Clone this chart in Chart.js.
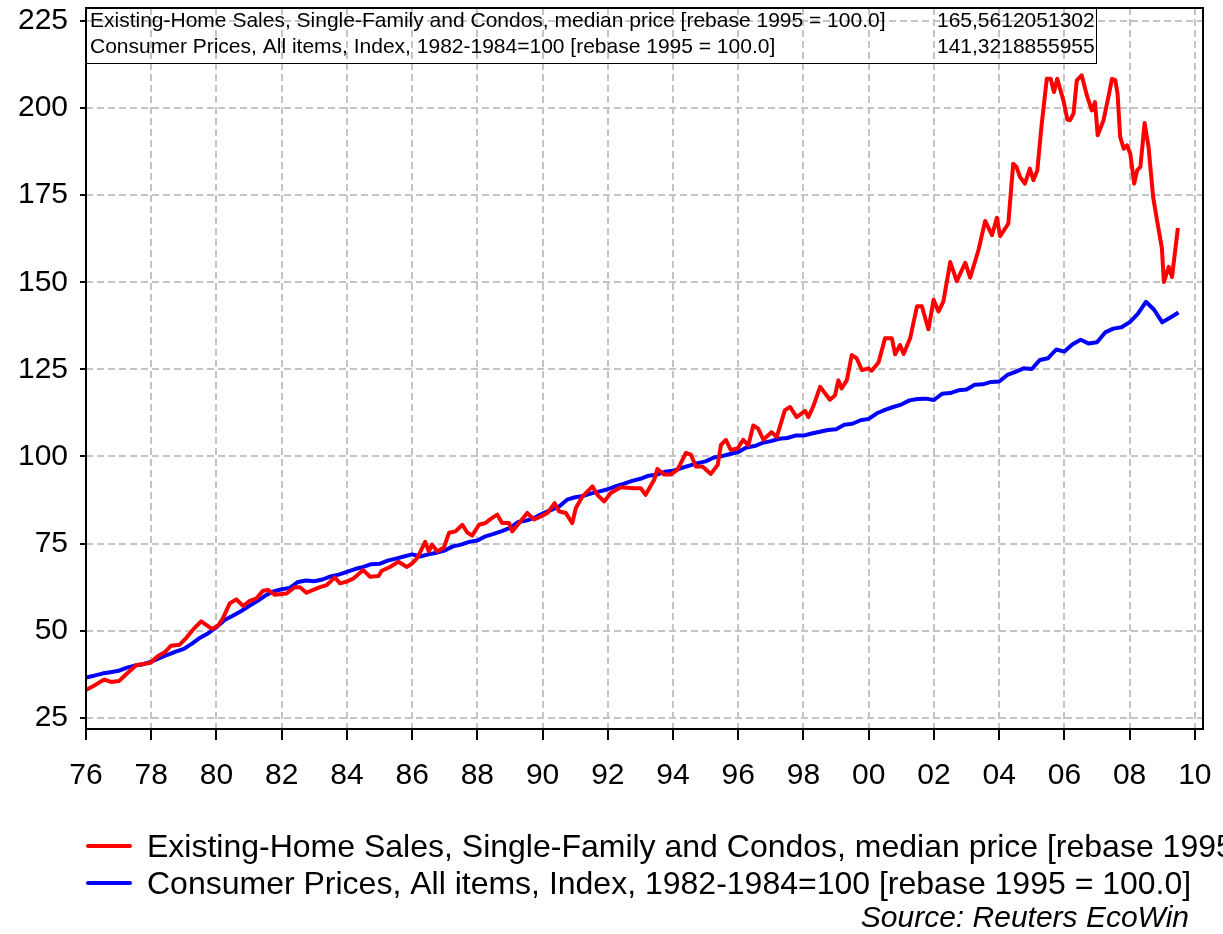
<!DOCTYPE html>
<html>
<head>
<meta charset="utf-8">
<script src="https://cdn.jsdelivr.net/npm/chart.js@4.4.0/dist/chart.umd.min.js"></script>
<style>
  html, body { margin: 0; padding: 0; background: #fff; }
  canvas { display: block; }
</style>
</head>
<body>
<canvas id="chart" width="1223" height="934"></canvas>
<script>
// home price vs CPI, both rebased to 1995 = 100

const homeLabel = 'Existing-Home Sales, Single-Family and Condos, median price [rebase 1995 = 100.0]';
const cpiLabel = 'Consumer Prices, All items, Index, 1982-1984=100 [rebase 1995 = 100.0]';
const homeLast = '165,5612051302';
const cpiLast = '141,3218855955';

// median price (decimal year / index value)
const homeYears = [
  1976.00, 1976.31, 1976.56, 1976.77, 1977.02, 1977.23, 1977.54, 1977.98, 1978.20, 1978.41,
  1978.61, 1978.87, 1979.07, 1979.28, 1979.53, 1979.86, 1980.05, 1980.20, 1980.41, 1980.61,
  1980.82, 1981.02, 1981.23, 1981.43, 1981.58, 1981.79, 1982.15, 1982.40, 1982.56, 1982.76,
  1983.17, 1983.38, 1983.63, 1983.79, 1983.99, 1984.20, 1984.50, 1984.71, 1984.97, 1985.07,
  1985.32, 1985.58, 1985.84, 1986.00, 1986.14, 1986.25, 1986.40, 1986.51, 1986.61, 1986.77,
  1986.97, 1987.13, 1987.33, 1987.54, 1987.69, 1987.84, 1988.05, 1988.25, 1988.41, 1988.61,
  1988.76, 1988.97, 1989.07, 1989.28, 1989.53, 1989.74, 1989.94, 1990.15, 1990.37, 1990.50,
  1990.71, 1990.91, 1991.02, 1991.22, 1991.53, 1991.68, 1991.89, 1992.09, 1992.40, 1992.81,
  1993.01, 1993.16, 1993.42, 1993.52, 1993.73, 1993.93, 1994.14, 1994.39, 1994.55, 1994.70,
  1994.90, 1995.16, 1995.37, 1995.47, 1995.62, 1995.77, 1995.98, 1996.15, 1996.31, 1996.46,
  1996.61, 1996.77, 1997.02, 1997.18, 1997.43, 1997.59, 1997.79, 1998.05, 1998.15, 1998.30,
  1998.51, 1998.81, 1998.97, 1999.07, 1999.17, 1999.33, 1999.48, 1999.63, 1999.79, 1999.99,
  2000.09, 2000.30, 2000.50, 2000.71, 2000.81, 2000.96, 2001.07, 2001.27, 2001.48, 2001.63,
  2001.83, 2001.99, 2002.14, 2002.29, 2002.50, 2002.70, 2002.96, 2003.11, 2003.37, 2003.57,
  2003.78, 2003.93, 2004.03, 2004.28, 2004.43, 2004.53, 2004.64, 2004.79, 2004.94, 2005.05,
  2005.17, 2005.30, 2005.46, 2005.58, 2005.68, 2005.78, 2005.97, 2006.09, 2006.17, 2006.28,
  2006.38, 2006.53, 2006.69, 2006.84, 2006.94, 2007.02, 2007.20, 2007.35, 2007.46, 2007.56,
  2007.63, 2007.71, 2007.82, 2007.92, 2008.02, 2008.14, 2008.23, 2008.33, 2008.46, 2008.58,
  2008.72, 2008.84, 2008.99, 2009.05, 2009.20, 2009.30, 2009.48
];
const homeValues = [
  33.0, 34.6, 36.0, 35.3, 35.6, 37.5, 40.1, 40.8, 42.7, 43.8,
  45.7, 46.0, 47.9, 50.3, 52.7, 50.5, 51.5, 53.6, 57.9, 59.0,
  57.1, 58.6, 59.3, 61.5, 61.7, 60.3, 60.7, 62.5, 62.5, 60.9,
  62.5, 63.1, 65.3, 63.6, 64.1, 65.0, 67.4, 65.5, 65.7, 67.2,
  68.3, 69.8, 68.3, 69.3, 70.7, 72.6, 75.5, 72.8, 74.7, 72.8,
  73.8, 78.1, 78.5, 80.4, 78.2, 77.3, 80.4, 80.9, 82.1, 83.3,
  80.9, 80.9, 78.5, 80.9, 83.8, 81.9, 82.8, 83.8, 86.6, 84.3,
  83.8, 80.9, 85.2, 88.5, 91.4, 89.0, 87.1, 89.5, 91.2, 90.9,
  90.9, 89.0, 93.3, 96.4, 94.8, 94.8, 96.2, 101.0, 100.5, 97.1,
  97.1, 95.0, 97.6, 103.3, 104.8, 101.9, 102.3, 104.8, 103.2, 108.9,
  108.0, 104.8, 107.0, 105.6, 113.3, 114.2, 111.3, 113.1, 111.3, 114.4,
  120.0, 116.3, 117.6, 121.9, 119.5, 121.9, 129.1, 128.2, 124.8, 125.3,
  124.6, 127.0, 133.9, 133.9, 129.3, 132.0, 129.4, 133.9, 143.1, 143.1,
  136.5, 145.0, 141.6, 144.5, 155.8, 150.3, 155.6, 151.3, 159.4, 167.6,
  163.5, 168.5, 163.2, 166.8, 184.0, 183.1, 180.2, 178.3, 182.6, 179.3,
  182.1, 195.0, 208.4, 208.4, 204.6, 208.4, 202.2, 196.7, 196.5, 198.4,
  207.9, 209.4, 203.6, 199.3, 201.7, 192.2, 196.5, 203.2, 208.4, 208.0,
  204.1, 191.7, 188.3, 189.3, 186.9, 178.3, 182.1, 183.1, 195.7, 188.8,
  174.5, 167.8, 159.7, 150.1, 154.4, 151.5, 165.6
];

// CPI, quarterly from 1976 Q1 (Jan, Apr, Jul, Oct)
const cpiStart = 1976;
const cpiStep = 0.25;
const cpiValues = [
  36.6, 37.1, 37.7, 38.1,   38.5, 39.4, 40.0, 40.4,   41.1, 42.1, 43.1, 44.0,
  44.8, 46.3, 48.0, 49.3,   51.0, 53.1, 54.3, 55.6,   57.1, 58.5, 60.1, 61.3,
  61.9, 62.3, 64.0, 64.4,   64.2, 64.7, 65.6, 66.1,   66.9, 67.7, 68.3, 69.1,
  69.2, 70.1, 70.7, 71.3,   71.9, 71.3, 71.9, 72.4,   73.0, 74.2, 74.7, 75.5,
  75.9, 77.1, 77.8, 78.6,   79.5, 81.2, 81.6, 82.4,   83.6, 84.6, 85.6, 87.6,
  88.3, 88.7, 89.4, 90.0,   90.6, 91.5, 92.2, 93.0,   93.6, 94.5, 94.8, 95.6,
  95.9, 96.7, 97.4, 98.1,   98.6, 99.7, 100.1, 100.7, 101.3, 102.6, 103.0, 103.9,
  104.4, 105.1, 105.3, 106.0, 106.0, 106.6, 107.1, 107.6, 107.8, 109.1, 109.4, 110.4,
  110.8, 112.4, 113.4, 114.2, 114.9, 116.1, 116.5, 116.6, 116.2, 118.0, 118.2, 119.0,
  119.2, 120.6, 120.7, 121.4, 121.5, 123.4, 124.3, 125.3, 125.1, 127.7, 128.2, 130.7,
  130.1, 132.2, 133.5, 132.4, 132.8, 135.6, 136.7, 137.1, 138.5, 140.9, 144.4, 142.1,
  138.5, 139.9, 141.3
];

const xTickYears = [1976, 1978, 1980, 1982, 1984, 1986, 1988, 1990, 1992, 1994,
                    1996, 1998, 2000, 2002, 2004, 2006, 2008, 2010];
const yTickValues = [25, 50, 75, 100, 125, 150, 175, 200, 225];

const FONT = '"Liberation Sans", Arial, sans-serif';

const homePoints = homeYears.map((yr, i) => ({ x: yr, y: homeValues[i] }));
const cpiPoints = cpiValues.map((v, i) => ({ x: cpiStart + i * cpiStep, y: v }));

// frame, value box, legend and source line
const decor = {
    id: 'decor',
    afterDraw(chart) {
        const ctx = chart.ctx;
        const a = chart.chartArea;
        ctx.save();

        ctx.strokeStyle = '#000';
        ctx.lineWidth = 2;
        ctx.strokeRect(a.left, a.top, a.right - a.left, a.bottom - a.top);

        // value box at the top
        ctx.lineWidth = 1;
        ctx.strokeRect(a.left + 0.5, a.top + 0.5, 1010, 55);
        ctx.fillStyle = '#000';
        ctx.font = '21px ' + FONT;
        ctx.textBaseline = 'middle';
        ctx.textAlign = 'left';
        ctx.fillText(homeLabel, a.left + 4, a.top + 13);
        ctx.fillText(cpiLabel, a.left + 4, a.top + 39);
        ctx.fillText(homeLast, 937, a.top + 13);
        ctx.fillText(cpiLast, 937, a.top + 39);

        // legend
        ctx.lineWidth = 4;
        ctx.lineCap = 'round';
        ctx.strokeStyle = '#ff0000';
        ctx.beginPath(); ctx.moveTo(88, 846); ctx.lineTo(130, 846); ctx.stroke();
        ctx.strokeStyle = '#0000ff';
        ctx.beginPath(); ctx.moveTo(88, 883); ctx.lineTo(130, 883); ctx.stroke();
        ctx.font = '32px ' + FONT;
        ctx.fillText(homeLabel, 147, 848);
        ctx.fillText(cpiLabel, 147, 885);

        ctx.font = 'italic 30px ' + FONT;
        ctx.textAlign = 'right';
        ctx.fillText('Source: Reuters EcoWin', 1189, 919);
        ctx.restore();
    }
};

new Chart(document.getElementById('chart'), {
    type: 'line',
    data: {
        datasets: [
            { label: homeLabel, data: homePoints, borderColor: '#ff0000', borderWidth: 4 },
            { label: cpiLabel, data: cpiPoints, borderColor: '#0000ff', borderWidth: 4 }
        ]
    },
    options: {
        responsive: false,
        animation: false,
        devicePixelRatio: 1,
        elements: { point: { radius: 0 }, line: { tension: 0, borderJoinStyle: 'round' } },
        layout: { padding: { top: 8, right: 20, left: 0, bottom: 0 } },
        plugins: { legend: { display: false }, tooltip: { enabled: false } },
        scales: {
            x: {
                type: 'linear',
                min: 1976,
                max: 2010.25,
                afterFit: (s) => {
                    s.height = 205;
                    s.paddingLeft = 0;
                    s.paddingRight = 0;
                },
                afterBuildTicks: (s) => { s.ticks = xTickYears.map(v => ({ value: v })); },
                grid: { color: '#c4c4c4', lineWidth: 2, tickColor: '#000', tickLength: 11, tickWidth: 2, tickBorderDash: [] },
                border: { display: false, dash: [7, 4] },
                ticks: {
                    color: '#000',
                    font: { family: FONT, size: 30 },
                    padding: 18,
                    maxRotation: 0,
                    autoSkip: false,
                    callback: (v) => String(v % 100).padStart(2, '0')
                }
            },
            y: {
                min: 21.8,
                max: 228.7,
                afterFit: (s) => {
                    s.width = 86;
                    s.paddingTop = 0;
                    s.paddingBottom = 0;
                },
                afterBuildTicks: (s) => { s.ticks = yTickValues.map(v => ({ value: v })); },
                grid: { color: '#c4c4c4', lineWidth: 2, tickColor: '#000', tickLength: 6, tickWidth: 2, tickBorderDash: [] },
                border: { display: false, dash: [7, 4] },
                ticks: {
                    color: '#000',
                    font: { family: FONT, size: 30 },
                    padding: 12,
                    autoSkip: false
                }
            }
        }
    },
    plugins: [decor]
});
</script>
</body>
</html>
